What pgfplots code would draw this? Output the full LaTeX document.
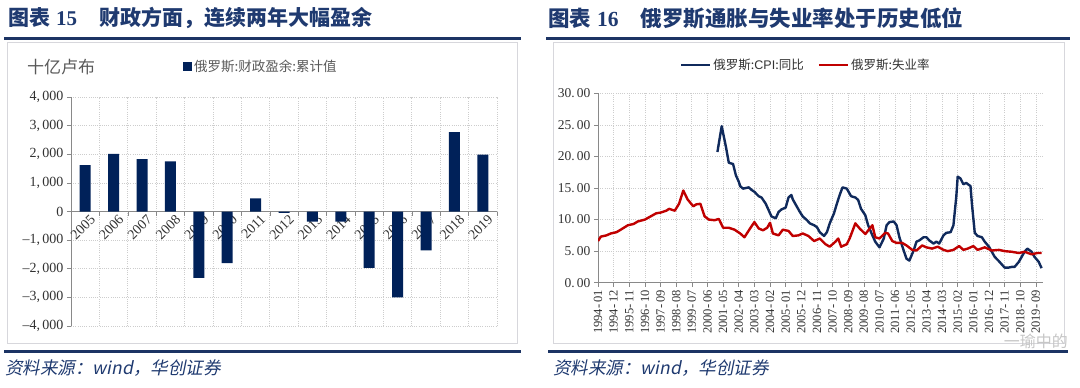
\documentclass[border=0pt]{standalone}
\usepackage{pgfplots}
\pgfplotsset{compat=1.18}
\usepackage{fontspec}
\setmainfont{Liberation Serif}
\newfontfamily\cjk{Noto Sans CJK SC}
\newfontfamily\cjki{Noto Sans CJK SC}[FakeSlant=0.2]
\newfontfamily\sans{Liberation Sans}
\definecolor{titlecol}{RGB}{31,58,112}
\definecolor{linecol}{RGB}{28,52,100}
\definecolor{framecol}{RGB}{215,215,220}
\definecolor{barcol}{RGB}{0,33,89}
\definecolor{cpicol}{RGB}{16,42,92}
\definecolor{unemcol}{RGB}{192,0,0}
\definecolor{gridcol}{RGB}{205,205,205}
\definecolor{axcol}{RGB}{137,137,137}
\definecolor{txtgray}{RGB}{89,89,89}
\definecolor{tickcol}{RGB}{50,50,50}
\begin{document}
\begin{tikzpicture}[x=1pt,y=1pt]
\path (0,0) rectangle (1080,-388);
% ---------- left panel decorations
\node[anchor=west, text=titlecol, inner sep=0] at (8,-18) {\fontsize{21}{21}\selectfont\cjk\bfseries 图表\hspace{6pt}{\rmfamily\bfseries 15}\hspace{22pt}财政方面，连续两年大幅盈余};
\draw[linecol, line width=3pt] (4,-38) -- (521,-38);
\draw[framecol, line width=0.8pt] (7,-42) rectangle (517,-343);
\draw[linecol, line width=3pt] (4,-351) -- (521,-351);
\node[anchor=west, text=titlecol, inner sep=0] at (5,-368) {\fontsize{17.5}{17.5}\selectfont\cjki 资料来源：{\itshape wind}，华创证券};
\node[anchor=west, text=txtgray, inner sep=0] at (27,-67) {\fontsize{17}{17}\selectfont\cjk 十亿卢布};
% ---------- right panel decorations
\node[anchor=west, text=titlecol, inner sep=0] at (548,-18) {\fontsize{21.5}{21.5}\selectfont\cjk\bfseries 图表\hspace{6pt}{\rmfamily\bfseries 16}\hspace{22pt}俄罗斯通胀与失业率处于历史低位};
\draw[linecol, line width=3pt] (546,-38) -- (1070,-38);
\draw[framecol, line width=0.8pt] (553,-42) rectangle (1064,-343);
\draw[linecol, line width=3pt] (548,-351) -- (1068,-351);
\node[anchor=west, text=titlecol, inner sep=0] at (553,-368) {\fontsize{17.5}{17.5}\selectfont\cjki 资料来源：{\itshape wind}，华创证券};
\node[anchor=east, text=gray!45, inner sep=0] at (1068,-341) {\fontsize{16}{16}\selectfont\cjk 一瑜中的};

% ---------- left chart
\begin{axis}[
  at={(71pt,-326pt)}, anchor=south west, scale only axis,
  width=426pt, height=229pt,
  xmin=-0.5, xmax=14.5, ymin=-4000, ymax=4000,
  axis x line*=middle, axis y line*=left,
  axis line style={axcol, line width=0.7pt},
  ybar, bar width=11pt,
  xtick={-0.5,0.5,...,14.5}, xticklabels={},
  extra x ticks={0,...,14},
  extra x tick labels={2005,2006,2007,2008,2009,2010,2011,2012,2013,2014,2015,2016,2017,2018,2019},
  extra x tick style={grid=none, major tick length=0pt},
  xticklabel style={rotate=45, anchor=north east, font=\fontsize{14}{14}\selectfont, text=tickcol, xshift=5pt, yshift=-1pt},
  ytick={-4000,-3000,...,4000},
  yticklabels={{\textendash4,\,000},{\textendash3,\,000},{\textendash2,\,000},{\textendash1,\,000},0,{1,\,000},{2,\,000},{3,\,000},{4,\,000}},
  yticklabel style={font=\fontsize{14}{14}\selectfont, text=tickcol},
  tick align=outside, major tick length=4pt,
  tick style={axcol, line width=0.6pt},
  xmajorgrids, ymajorgrids,
  grid style={gridcol, line width=0.7pt, dash pattern=on 1pt off 1.2pt},
  legend style={draw=none, fill=none, at={(0.263,1.135)}, anchor=west,
    font=\fontsize{13.5}{13.5}\selectfont, text=txtgray, inner sep=0pt},
  legend cell align=left,
]
\addplot[fill=barcol, draw=none,
  legend image code/.code={\fill[barcol] (0pt,-5pt) rectangle (9pt,4.5pt);}]
  coordinates {(0,1620) (1,2010) (2,1830) (3,1750) (4,-2320) (5,-1800) (6,460) (7,-50) (8,-350) (9,-350) (10,-1970) (11,-3000) (12,-1360) (13,2770) (14,1990)};
\addlegendentry{\cjk 俄罗斯:财政盈余:累计值}
\end{axis}

% ---------- right chart
\begin{axis}[
  at={(598pt,-282.7pt)}, anchor=south west, scale only axis,
  width=445pt, height=189.4pt,
  xmin=0, xmax=313, ymin=0, ymax=30,
  axis x line*=bottom, axis y line*=left,
  axis line style={axcol, line width=0.7pt},
  xtick={0,11,...,308},
  xticklabels={1994-\,01,1994-\,12,1995-\,11,1996-\,10,1997-\,09,1998-\,08,1999-\,07,2000-\,06,2001-\,05,2002-\,04,2003-\,03,2004-\,02,2005-\,01,2005-\,12,2006-\,11,2007-\,10,2008-\,09,2009-\,08,2010-\,07,2011-\,06,2012-\,05,2013-\,04,2014-\,03,2015-\,02,2016-\,01,2016-\,12,2017-\,11,2018-\,10,2019-\,09},
  xticklabel style={rotate=90, anchor=east, font=\fontsize{12.5}{12.5}\selectfont, text=tickcol},
  ytick={0,5,...,30},
  yticklabels={0.\,00,5.\,00,10.\,00,15.\,00,20.\,00,25.\,00,30.\,00},
  yticklabel style={font=\fontsize{13.5}{13.5}\selectfont, text=tickcol},
  tick align=outside, major tick length=4pt,
  tick style={axcol, line width=0.6pt},
  xmajorgrids, ymajorgrids,
  grid style={gridcol, line width=0.7pt, dash pattern=on 1pt off 1.2pt},
  legend style={draw=none, fill=none, at={(0.184,1.149)}, anchor=west,
    font=\fontsize{12.5}{12.5}\selectfont, text=tickcol, inner sep=0pt,
    /tikz/every even column/.append style={column sep=12pt}},
  legend columns=2,
  legend image code/.code={\draw (0pt,0pt) -- (29pt,0pt);},
]
\addplot[cpicol, line width=2.4pt, line join=round] coordinates {
(84,20.7) (87,24.8) (90,21.5) (92,19.0) (95,18.8) (97,17.0) (99,16.0) (100,15.3) (102,14.9)
(106,15.1) (108,14.7) (110,14.4) (113,13.7) (115,13.5) (118,12.5) (120,11.5) (122,10.5)
(125,10.2) (127,11.2) (129,11.6) (132,11.9) (134,13.5) (136,13.9) (137,13.2) (140,12.0)
(142,11.2) (144,10.5) (147,9.9) (149,9.4) (152,9.1) (154,8.8) (156,8.0) (159,7.4) (161,8.0)
(163,9.4) (166,11.0) (168,12.5) (170,13.9) (172,15.1) (175,14.9) (178,13.7) (181,13.5)
(183,13.1) (185,11.7) (188,10.7) (190,9.1) (193,7.5) (195,6.5) (198,5.6) (201,7.0) (203,9.1)
(205,9.6) (208,9.7) (210,9.1) (212,7.2) (215,5.1) (217,3.8) (219,3.5) (222,5.1) (224,6.5)
(226,6.7) (229,7.2) (231,7.2) (233,6.7) (236,6.2) (238,6.5) (240,6.2) (243,7.5) (245,7.9)
(248,8.0) (250,9.1) (252,13.6) (253,16.8) (255,16.5) (257,15.6) (259,15.8) (262,15.3)
(263,12.5) (265,7.9) (267,7.4) (270,7.2) (272,6.5) (275,5.7) (277,4.9) (279,4.1) (282,3.4)
(284,2.9) (286,2.4) (289,2.4) (291,2.5) (293,2.5) (296,3.3) (298,4.1) (300,4.9) (302,5.4)
(305,4.9) (307,4.1) (310,3.3) (312,2.3)};
\addlegendentry{{\cjk 俄罗斯:}{\sans CPI}{\cjk :同比}}
\addplot[unemcol, line width=2.4pt, line join=round] coordinates {
(0,6.6) (2,7.3) (6,7.5) (9,7.8) (13,8.0) (16,8.4) (21,9.1) (25,9.3) (28,9.7) (33,10.0)
(37,10.5) (41,11.0) (44,11.1) (48,11.4) (50,11.7) (54,11.4) (57,12.5) (60,14.6) (63,13.2)
(67,12.1) (69,12.4) (72,12.5) (75,10.5) (78,10.0) (82,9.9) (85,10.1) (88,8.7) (92,8.7)
(96,8.4) (100,7.8) (103,7.2) (107,8.6) (110,9.6) (113,8.6) (116,8.3) (119,8.7) (121,9.5)
(123,7.8) (127,7.5) (130,8.4) (134,8.2) (137,7.4) (141,7.5) (144,7.8) (148,7.4) (152,6.6)
(156,7.0) (160,6.1) (163,5.7) (167,6.5) (169,7.0) (171,5.7) (175,6.1) (177,7.0) (181,9.4)
(184,8.6) (188,7.7) (193,9.1) (195,7.2) (198,7.0) (202,7.9) (204,7.8) (207,6.6) (210,6.3)
(214,6.3) (217,5.9) (221,5.2) (224,5.1) (228,5.9) (231,5.6) (235,5.4) (239,5.7) (243,5.2)
(246,5.0) (250,5.2) (254,5.8) (257,5.2) (260,5.4) (264,5.8) (267,5.2) (272,5.6) (277,5.1)
(282,5.2) (286,5.0) (291,4.9) (296,4.7) (300,4.9) (305,4.5) (309,4.7) (312,4.7)};
\addlegendentry{\cjk 俄罗斯:失业率}
\end{axis}
\end{tikzpicture}
\end{document}
